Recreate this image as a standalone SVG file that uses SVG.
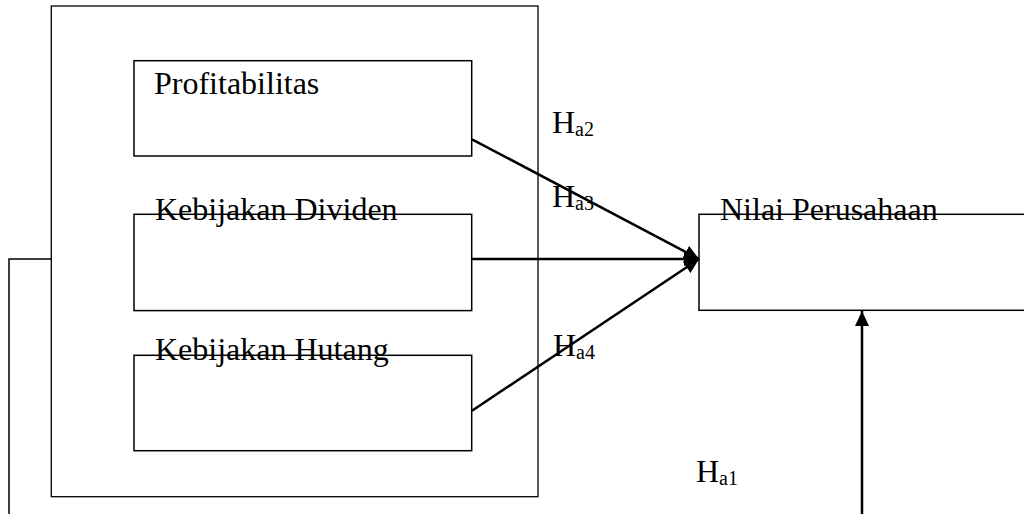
<svg xmlns="http://www.w3.org/2000/svg" width="1024" height="514" viewBox="0 0 1024 514">
<style>
.box{fill:none;stroke:#000;stroke-width:1.5}
.outer{fill:none;stroke:#000;stroke-width:1.3}
.lbl{font-family:"Liberation Serif","Times New Roman",serif;font-size:32px;fill:#000}
.sub{font-size:20px}
.arr{fill:none;stroke:#000;stroke-width:2.5}
.ln{fill:none;stroke:#000;stroke-width:1.5}
</style>
<defs>
<marker id="ah" markerUnits="userSpaceOnUse" markerWidth="16" markerHeight="14" refX="15" refY="7" orient="auto">
<path d="M0,0 L15,7 L0,14 z" fill="#000"/>
</marker>
</defs>
<rect width="1024" height="514" fill="#fff"/>
<g id="independent-group">
<rect class="outer" x="51.3" y="6" width="486.7" height="490.7"/>
</g>
<g id="profitabilitas">
<rect class="box" x="134" y="60.7" width="337.7" height="95.3"/>
<text class="lbl" x="154" y="94">Profitabilitas</text>
</g>
<g id="kebijakan-dividen">
<rect class="box" x="134" y="214.3" width="337.7" height="96.3"/>
<text class="lbl" x="155" y="220">Kebijakan Dividen</text>
</g>
<g id="kebijakan-hutang">
<rect class="box" x="134" y="355.3" width="337.7" height="95.4"/>
<text class="lbl" x="155" y="360">Kebijakan Hutang</text>
</g>
<g id="nilai-perusahaan">
<rect class="box" x="699" y="214.3" width="340" height="96"/>
<text class="lbl" x="720" y="220">Nilai Perusahaan</text>
</g>
<g id="connectors">
<line class="arr" x1="472" y1="139.3" x2="699" y2="259" marker-end="url(#ah)"/>
<line class="arr" x1="472" y1="259" x2="699" y2="259" marker-end="url(#ah)"/>
<line class="arr" x1="472" y1="410.7" x2="699" y2="259" marker-end="url(#ah)"/>
<line class="arr" x1="862" y1="520" x2="862" y2="311" marker-end="url(#ah)"/>
<polyline class="ln" points="51.3,259 9,259 9,520"/>
</g>
<g id="labels">
<text class="lbl" x="552" y="133">H<tspan class="sub" dy="3">a2</tspan></text>
<text class="lbl" x="552" y="207">H<tspan class="sub" dy="3">a3</tspan></text>
<text class="lbl" x="553" y="356">H<tspan class="sub" dy="3">a4</tspan></text>
<text class="lbl" x="696" y="482">H<tspan class="sub" dy="3">a1</tspan></text>
</g>
</svg>
